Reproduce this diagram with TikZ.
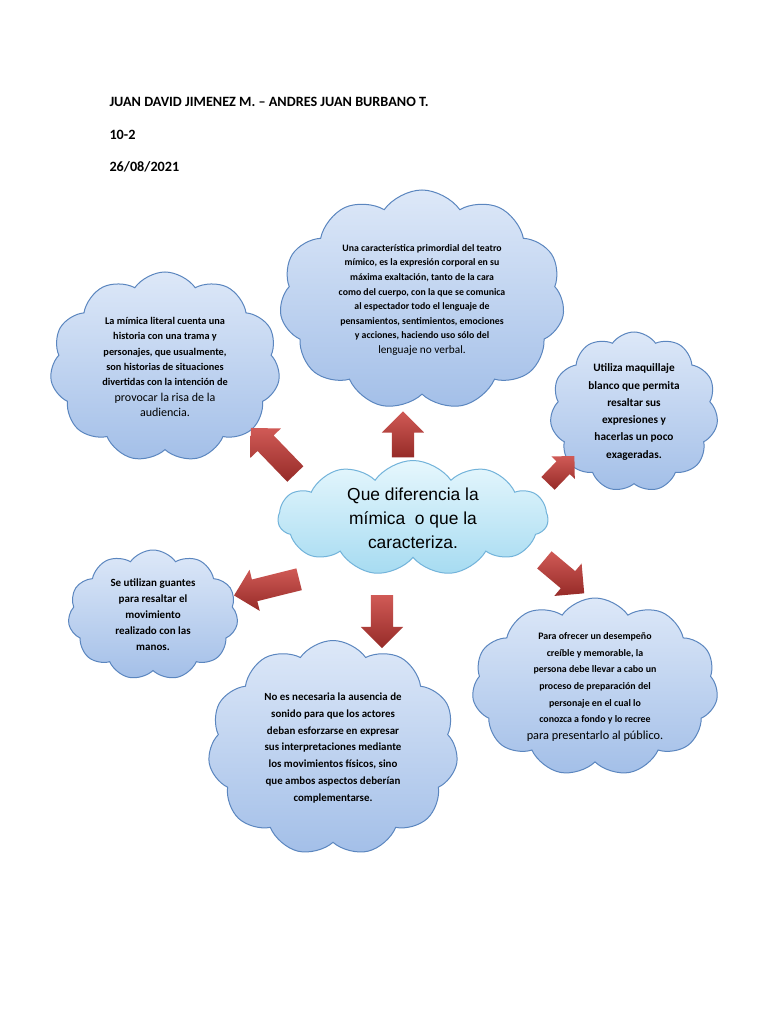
\documentclass[tikz,border=0pt]{standalone}
\usepackage{fontspec}
\setmainfont{Carlito}
\newfontfamily\arialfont{Liberation Sans}
\usepackage{tikz}
\usetikzlibrary{shapes.symbols,shapes.arrows}

\definecolor{cloudtop}{HTML}{DDE8F8}
\definecolor{cloudbot}{HTML}{A3BFE8}
\definecolor{cloudline}{HTML}{5B86BF}
\definecolor{maintop}{HTML}{E6F7FD}
\definecolor{mainbot}{HTML}{A6DBF1}
\definecolor{mainline}{HTML}{72B3DA}
\definecolor{arrtop}{HTML}{D05A56}
\definecolor{arrbot}{HTML}{962B28}

\tikzset{
    idea/.style={cloud, cloud puffs=11, cloud puff arc=110, cloud ignores aspect,
        draw=cloudline, line width=1pt, top color=cloudtop, bottom color=cloudbot,
        inner sep=0pt, align=center, font=\bfseries},
    pointer/.style={single arrow, single arrow head extend=10pt, inner xsep=0pt, inner ysep=11pt,
        top color=arrtop, bottom color=arrbot},
    header/.style={anchor=base west, font=\bfseries\fontsize{14.2}{16}\selectfont},
}

\begin{document}
\begin{tikzpicture}[x=1pt, y=-1pt]
    \useasboundingbox[fill=white] (0,0) rectangle (768,1024);

    \node[header] (names) at (106,107) {JUAN DAVID JIMENEZ M. -- ANDRES JUAN BURBANO T.};
    \node[header] (group) at (106,140) {10-2};
    \node[header] (date) at (106,172) {26/08/2021};

    \node[idea, minimum width=285pt, minimum height=220pt, font=\bfseries\fontsize{9.8}{14.6}\selectfont] (top) at (422,300)
        {Una característica primordial del teatro\\ mímico, es la expresión corporal en su\\ máxima exaltación, tanto de la cara\\
         como del cuerpo, con la que se comunica\\ al espectador todo el lenguaje de\\ pensamientos, sentimientos, emociones\\
         y acciones, haciendo uso sólo del\\ {\mdseries\fontsize{11.3}{16}\selectfont lenguaje no verbal.}};
    \node[idea, minimum width=230pt, minimum height=190pt, font=\bfseries\fontsize{10.3}{15.3}\selectfont] (literal) at (165,367)
        {La mímica literal cuenta una\\ historia con una trama y\\ personajes, que usualmente,\\ son historias de situaciones\\
         divertidas con la intención de\\ {\mdseries\fontsize{12}{17}\selectfont provocar la risa de la}\\ {\mdseries\fontsize{12}{17}\selectfont audiencia.}};
    \node[idea, minimum width=168pt, minimum height=160pt, font=\bfseries\fontsize{11.3}{17.3}\selectfont] (makeup) at (634,412)
        {Utiliza maquillaje\\ blanco que permita\\ resaltar sus\\ expresiones y\\ hacerlas un poco\\ exageradas.};
    \node[idea, minimum width=170pt, minimum height=130pt, font=\bfseries\fontsize{11}{16}\selectfont] (gloves) at (153,615)
        {Se utilizan guantes\\ para resaltar el\\ movimiento\\ realizado con las\\ manos.};
    \node[idea, minimum width=246pt, minimum height=178pt, font=\bfseries\fontsize{9.9}{16.7}\selectfont] (actor) at (595,687)
        {Para ofrecer un desempeño\\ creíble y memorable, la\\ persona debe llevar a cabo un\\ proceso de preparación del\\
         personaje en el cual lo\\ conozca a fondo y lo recree\\ {\mdseries\fontsize{12.3}{16.7}\selectfont para presentarlo al público.}};
    \node[idea, minimum width=250pt, minimum height=215pt, font=\bfseries\fontsize{10.9}{16.7}\selectfont] (sound) at (333,748)
        {No es necesaria la ausencia de\\ sonido para que los actores\\ deban esforzarse en expresar\\ sus interpretaciones mediante\\
         los movimientos físicos, sino\\ que ambos aspectos deberían\\ complementarse.};

    \node[idea, minimum width=270pt, minimum height=115pt, draw=mainline, top color=maintop, bottom color=mainbot,
        font=\arialfont\fontsize{17.4}{24}\selectfont] (main) at (413,518)
        {Que diferencia la\\ mímica\ \ o que la\\ caracteriza.};

    \node[pointer, minimum height=46pt, rotate=90] (ptop) at (403,440) {};
    \node[pointer, minimum height=64pt, rotate=134] (pliteral) at (277,455) {};
    \node[pointer, minimum height=38pt, inner ysep=9pt, single arrow head extend=7pt, rotate=46] (pmakeup) at (558,473) {};
    \node[pointer, minimum height=67pt, rotate=194] (pgloves) at (272,586) {};
    \node[pointer, minimum height=53pt, rotate=270] (psound) at (382,616) {};
    \node[pointer, minimum height=52pt, rotate=-40] (pactor) at (560,573) {};
\end{tikzpicture}
\end{document}
